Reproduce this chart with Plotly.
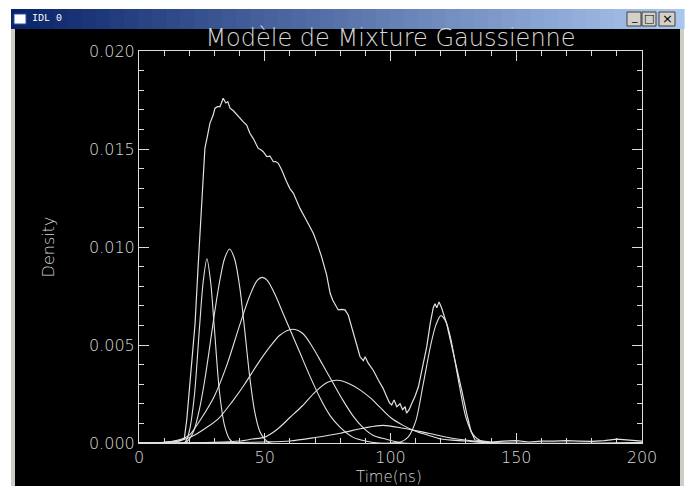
import plotly.graph_objects as go

# ---------------- data ----------------
time_total = [0, 10, 16, 18, 19, 20, 21, 22.3, 23.5, 24.9, 25.6, 26.2, 26.9, 28.2, 29.5, 30.2, 31.2,
              32.2, 33.5, 34.5, 35.3, 36.2, 37.5, 39, 40.2, 41.5, 42.8, 44.1, 45.5, 47.4, 48.3,
              49.4, 50.8, 52.1, 53.4, 54.4, 55.4, 56.8, 58.7, 60, 61.4, 62.7, 64, 66.5, 69.3,
              71, 72.6, 74.6, 76, 77, 78, 79.2, 80.5, 81.9, 83.2, 84.6, 86.6, 87.9, 89.2, 89.9,
              91.2, 93.2, 95.2, 97, 98.5, 99.6, 100.5, 101.4, 102.5, 103.8, 104.8, 105.8, 106.4,
              107.4, 108.4, 109.8, 111.1, 112.7, 114.4, 115.8, 117, 117.7, 118.4, 119.3, 120.3,
              122.3, 124.3, 126.3, 128.3, 130.3, 132, 133.6, 136, 140, 145, 150, 155, 160, 165,
              170, 175, 180, 185, 190, 195, 200]
dens_total = [0.0, 0.00003, 0.0001, 0.0002, 0.0012, 0.0026, 0.0042, 0.0061, 0.0090, 0.0124,
              0.01376, 0.01503, 0.01546, 0.01631, 0.01673, 0.01708, 0.01716, 0.01716, 0.01759,
              0.01735, 0.01742, 0.01708, 0.01695, 0.01672, 0.01657, 0.01638, 0.01622, 0.0158,
              0.01552, 0.01503, 0.01497, 0.01486, 0.01461, 0.01464, 0.01435, 0.01436, 0.01427,
              0.01392, 0.01333, 0.01298, 0.01274, 0.01238, 0.01197, 0.01138, 0.0107, 0.01012,
              0.0095, 0.00858, 0.00764, 0.0073, 0.00705, 0.00679, 0.00682, 0.00679, 0.00653,
              0.00593, 0.00509, 0.0044, 0.0042, 0.0044, 0.00406, 0.0037, 0.0032, 0.0028,
              0.00236, 0.00205, 0.00194, 0.0022, 0.00185, 0.0020, 0.0017, 0.00185, 0.00152,
              0.0017, 0.0020, 0.0024, 0.00287, 0.0039, 0.0049, 0.0061, 0.0069, 0.0071, 0.0069,
              0.0072, 0.0069, 0.0061, 0.0050, 0.0039, 0.0027, 0.0015, 0.0006, 0.00015, 0.0001,
              0.00005, 0.0001, 0.00012, 0.00005, 0.0001, 0.0001, 0.00012, 0.0001, 0.00008,
              0.00012, 0.0002, 0.00015, 0.0001]

comp1_t = [0, 18, 20, 22, 24, 25.5, 27, 28.5, 30, 32, 34, 36, 38, 200]
comp1_d = [0, 0.0, 0.0006, 0.0024, 0.0058, 0.0082, 0.0094, 0.0082, 0.0058, 0.0026, 0.0009,
           0.0002, 0.0, 0]

comp2_t = [0, 18, 20, 22, 24, 26, 28, 30, 32, 34, 36, 38, 40, 42, 44, 46, 48, 50, 52, 200]
comp2_d = [0, 0.0, 0.0002, 0.0007, 0.0017, 0.0031, 0.0048, 0.0066, 0.0082, 0.0094, 0.0099,
           0.0094, 0.0080, 0.0058, 0.0034, 0.0016, 0.0006, 0.0002, 0.0, 0]

comp3_t = [0, 10, 17, 20, 25, 30, 35, 40, 44, 47, 49, 51, 54, 57, 60, 64, 68, 72, 76, 80, 85,
           90, 95, 200]
comp3_d = [0, 0.00002, 0.0002, 0.0004, 0.0013, 0.0024, 0.0040, 0.0060, 0.0075, 0.0083, 0.00845,
           0.0083, 0.0076, 0.0067, 0.0058, 0.0046, 0.0034, 0.0023, 0.0014, 0.0008, 0.0003,
           0.0001, 0.0, 0]

comp4_t = [0, 10, 17, 22, 27, 32, 37, 42, 47, 52, 56, 61, 65, 69, 73, 77, 81, 85, 89, 93, 98,
           105, 200]
comp4_d = [0, 0.00003, 0.00015, 0.0004, 0.0008, 0.0013, 0.0021, 0.0030, 0.0040, 0.0049, 0.0055,
           0.0058, 0.0056, 0.0049, 0.0040, 0.0031, 0.0022, 0.0014, 0.0008, 0.0004, 0.0002, 0.0, 0]

comp5_t = [0, 20, 30, 40, 45, 50, 55, 60, 65, 70, 75, 79, 84, 88, 92, 96, 100, 105, 110, 115,
           120, 130, 140, 200]
comp5_d = [0, 0.00001, 0.00003, 0.0001, 0.0002, 0.0003, 0.0007, 0.0013, 0.0019, 0.0026, 0.0031,
           0.0032, 0.0030, 0.0027, 0.0023, 0.0018, 0.0013, 0.0009, 0.0006, 0.0004, 0.0002,
           0.0001, 0.0, 0]

comp6_t = [0, 30, 50, 60, 70, 80, 90, 97, 105, 112, 120, 128, 135, 145, 200]
comp6_d = [0, 0.00001, 0.00005, 0.0001, 0.00028, 0.0005, 0.00078, 0.0009, 0.00075, 0.00058,
           0.00036, 0.00018, 0.00008, 0.0, 0]

comp7_t = [0, 100, 104, 107, 110, 113, 116, 118, 120, 122, 124, 127, 130, 133, 136, 140, 200]
comp7_d = [0, 0.0, 0.00005, 0.0003, 0.0011, 0.0030, 0.0050, 0.0060, 0.0065, 0.0062, 0.0053,
           0.0032, 0.0013, 0.0004, 0.0001, 0.0, 0]

x_ticks = [0, 50, 100, 150, 200]
y_ticks = [0.000, 0.005, 0.010, 0.015, 0.020]
y_tick_text = ["0.000", "0.005", "0.010", "0.015", "0.020"]

title_text = "Modèle de Mixture Gaussienne"
x_title = "Time(ns)"
y_title = "Density"
window_title = "IDL 0"

# ---------------- figure ----------------
W, H = 687, 486
L, R, T, B = 139, 642, 51, 443  # plot area in pixels


def xp(px):
    return (px - L) / (R - L)


def yp(py):
    return (B - py) / (B - T)


LINE = "#e2e2e2"
TXT = "#d8d8d8"
FONT = "DejaVu Sans"

fig = go.Figure()
components = [(comp1_t, comp1_d), (comp2_t, comp2_d), (comp3_t, comp3_d), (comp4_t, comp4_d),
              (comp5_t, comp5_d), (comp6_t, comp6_d), (comp7_t, comp7_d)]
for t, d in components:
    fig.add_trace(go.Scatter(x=t, y=d, mode="lines",
                             line=dict(color=LINE, width=1.1, shape="spline", smoothing=0.8),
                             showlegend=False, hoverinfo="skip"))
fig.add_trace(go.Scatter(x=time_total, y=dens_total, mode="lines",
                         line=dict(color=LINE, width=1.2), showlegend=False, hoverinfo="skip"))

shapes = []
# white surroundings
shapes.append(dict(type="rect", xref="paper", yref="paper", x0=xp(0), x1=xp(W), y0=yp(0), y1=yp(9),
                   fillcolor="white", line=dict(width=0), layer="below"))
shapes.append(dict(type="rect", xref="paper", yref="paper", x0=xp(0), x1=xp(11), y0=yp(0), y1=yp(H),
                   fillcolor="white", line=dict(width=0), layer="below"))
shapes.append(dict(type="rect", xref="paper", yref="paper", x0=xp(684), x1=xp(W), y0=yp(0), y1=yp(H),
                   fillcolor="white", line=dict(width=0), layer="below"))
# gray window borders
shapes.append(dict(type="rect", xref="paper", yref="paper", x0=xp(11), x1=xp(15), y0=yp(9), y1=yp(H),
                   fillcolor="#cfccc4", line=dict(width=0), layer="below"))
shapes.append(dict(type="rect", xref="paper", yref="paper", x0=xp(680), x1=xp(684), y0=yp(9), y1=yp(H),
                   fillcolor="#cfccc4", line=dict(width=0), layer="below"))
# title bar gradient
n = 48
c0 = (10, 36, 106)
c1 = (170, 198, 238)
x_start, x_end = 11, 684
for i in range(n):
    f = i / (n - 1)
    col = "rgb(%d,%d,%d)" % tuple(round(a + (b - a) * f) for a, b in zip(c0, c1))
    xa = x_start + (x_end - x_start) * i / n
    xb = x_start + (x_end - x_start) * (i + 1) / n + 0.6
    shapes.append(dict(type="rect", xref="paper", yref="paper", x0=xp(xa), x1=xp(xb),
                       y0=yp(29), y1=yp(9), fillcolor=col, line=dict(width=0), layer="below"))
# window icon
shapes.append(dict(type="rect", xref="paper", yref="paper", x0=xp(14), x1=xp(26), y0=yp(24), y1=yp(14),
                   fillcolor="white", line=dict(color="#3050a0", width=1), layer="below"))
# buttons
for bx0, bx1 in [(627, 641), (642, 656), (659, 675)]:
    shapes.append(dict(type="rect", xref="paper", yref="paper", x0=xp(bx0), x1=xp(bx1),
                       y0=yp(26), y1=yp(12), fillcolor="#d4d0c8",
                       line=dict(color="#404040", width=1), layer="below"))

annotations = [
    dict(text=window_title, xref="paper", yref="paper", x=xp(30), y=yp(18.5), xanchor="left",
         yanchor="middle", showarrow=False, font=dict(family="Liberation Mono", size=10, color="white")),
    dict(text="_", xref="paper", yref="paper", x=xp(634), y=yp(17), showarrow=False,
         font=dict(family="DejaVu Sans", size=11, color="black"), xanchor="center", yanchor="middle"),
    dict(text="□", xref="paper", yref="paper", x=xp(649), y=yp(19), showarrow=False,
         font=dict(family="DejaVu Sans", size=11, color="black"), xanchor="center", yanchor="middle"),
    dict(text="×", xref="paper", yref="paper", x=xp(667), y=yp(19), showarrow=False,
         font=dict(family="DejaVu Sans", size=13, color="black"), xanchor="center", yanchor="middle"),
    dict(text=x_title, xref="paper", yref="paper", x=xp(389), y=yp(477), xanchor="center",
         yanchor="middle", showarrow=False, font=dict(family=FONT, size=15, color=TXT, weight=300)),
]

axis_common = dict(showgrid=False, zeroline=False, showline=True, linecolor="#dcdcdc", linewidth=1.1,
                   mirror="ticks", ticks="inside", ticklen=10, tickwidth=1.1, tickcolor="#dcdcdc",
                   tickfont=dict(family=FONT, size=16, color=TXT, weight=300))

fig.update_layout(
    width=W, height=H,
    margin=dict(l=L, r=W - R, t=T, b=H - B, pad=0),
    paper_bgcolor="black", plot_bgcolor="black",
    title=dict(text=title_text, x=(L + R) / 2 / W, xanchor="center", y=1 - 38 / H, yanchor="middle",
               font=dict(family=FONT, size=24, color=TXT, weight=300)),
    xaxis=dict(range=[0, 200], tickvals=x_ticks, ticktext=[str(v) for v in x_ticks],
               minor=dict(dtick=10, ticklen=5, ticks="inside", tickcolor="#dcdcdc", tickwidth=1.1),
               automargin=False, **axis_common),
    yaxis=dict(range=[0, 0.02], tickvals=y_ticks, ticktext=y_tick_text,
               minor=dict(dtick=0.001, ticklen=5, ticks="inside", tickcolor="#dcdcdc", tickwidth=1.1),
               title=dict(text=y_title, font=dict(family=FONT, size=16, color=TXT, weight=300),
                          standoff=30),
               automargin=False, **axis_common),
    shapes=shapes, annotations=annotations,
)

fig.write_html("out.html", config={"displayModeBar": False},
               post_script="document.body.style.margin='0';")
